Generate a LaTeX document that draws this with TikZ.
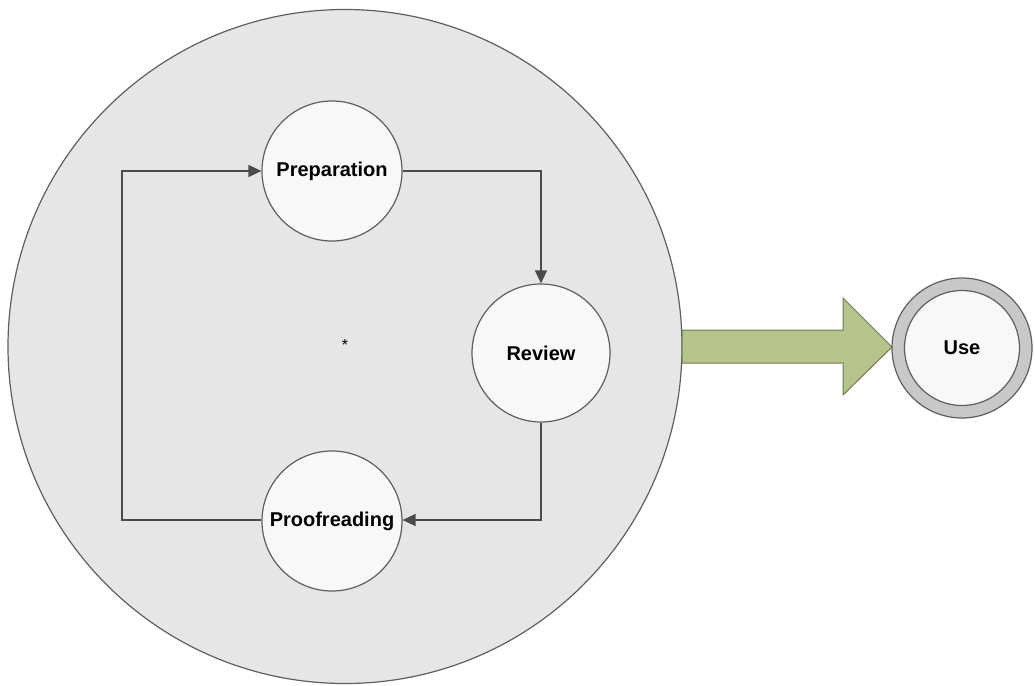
\documentclass[tikz,border=0pt]{standalone}
\usepackage{fontspec}
\setmainfont{Liberation Sans}
\usetikzlibrary{arrows.meta}
\definecolor{bigfill}{RGB}{230,230,230}
\definecolor{edge}{RGB}{95,95,95}
\definecolor{linec}{RGB}{75,75,75}
\definecolor{nodefill}{RGB}{248,248,248}
\definecolor{greenfill}{RGB}{182,196,138}
\definecolor{greenedge}{RGB}{112,122,82}
\definecolor{ringfill}{RGB}{200,200,200}
\tikzset{
  stepnode/.style={circle, draw=edge, line width=1.2pt, fill=nodefill, inner sep=0pt,
    minimum size=140pt, font=\fontsize{20}{24}\selectfont\bfseries},
  flow/.style={draw=linec, line width=1.5pt, -{Triangle[length=13pt,width=12pt]}}
}
\begin{document}
\begin{tikzpicture}[x=1pt,y=-1pt]
\useasboundingbox (0,0) rectangle (1035,685);
% big circle
\node[circle, draw=edge, line width=1.2pt, fill=bigfill, inner sep=0pt, minimum size=674pt] (big) at (345,346.5) {};
% green block arrow
\path[fill=greenfill, draw=greenedge, line width=1pt]
  (682,330) -- (843,330) -- (843,298) -- (892,347) -- (843,395) -- (843,363) -- (682,363) -- cycle;
% use node
\node[circle, draw=edge, line width=1.2pt, fill=ringfill, inner sep=0pt, minimum size=140pt] (useouter) at (962,348) {};
\node[circle, draw=edge, line width=1.2pt, fill=nodefill, inner sep=0pt, minimum size=115pt,
  font=\fontsize{20}{24}\selectfont\bfseries] (use) at (962,348) {Use};
% step nodes
\node[stepnode] (prep) at (332,171) {Preparation};
\node[stepnode, minimum size=138pt] (rev) at (541,353) {Review};
\node[stepnode] (proof) at (332,521) {Proofreading};
\node[font=\fontsize{16}{18}\selectfont] (star) at (345,345) {*};
% connectors
\coordinate (c2) at (541,520);
\coordinate (c3) at (122,520);
\coordinate (c4) at (122,171);
\draw[flow] (prep.east) -- (prep.east -| rev.north) -- (rev.north);
\draw[flow] (rev.south) -- (c2) -- (proof.east |- c2);
\draw[flow] (proof.west |- c3) -- (c3) -- (c4) -- (prep.west);
\end{tikzpicture}
\end{document}
